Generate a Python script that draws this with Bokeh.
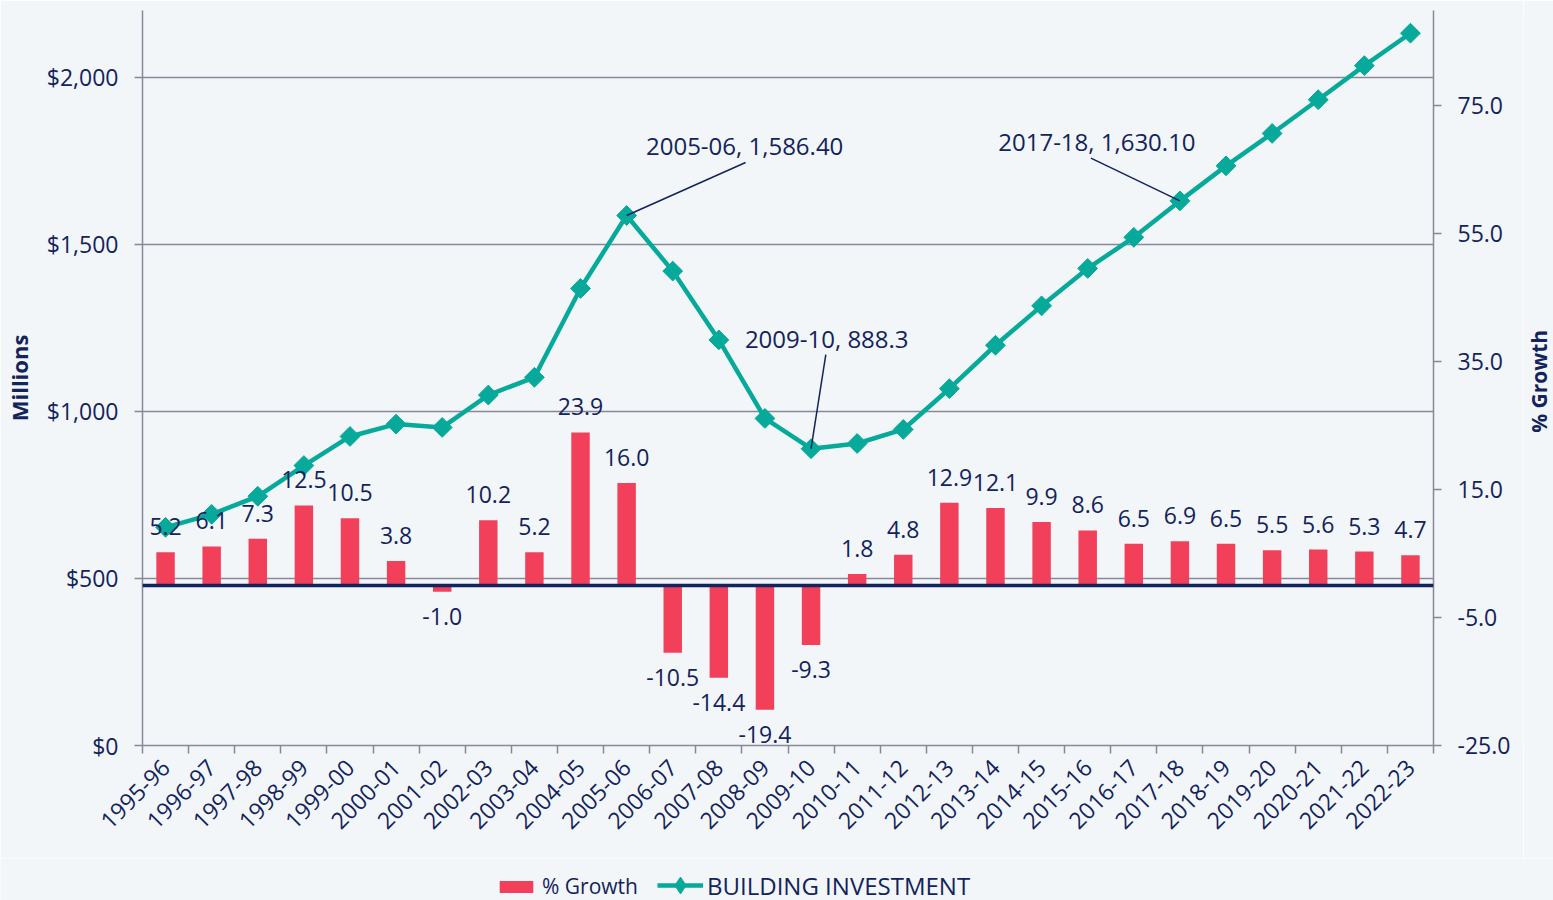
import math
from bokeh.plotting import figure
from bokeh.layouts import column, row
from bokeh.models import (Range1d, LinearAxis, FixedTicker, NumeralTickFormatter,
                          Span, Legend, LegendItem, Label, ColumnDataSource)
from bokeh.core.properties import value
from bokeh.embed import file_html
from bokeh.resources import INLINE

# ---------------- data ----------------
years = ["1995-96", "1996-97", "1997-98", "1998-99", "1999-00", "2000-01", "2001-02",
         "2002-03", "2003-04", "2004-05", "2005-06", "2006-07", "2007-08", "2008-09",
         "2009-10", "2010-11", "2011-12", "2012-13", "2013-14", "2014-15", "2015-16",
         "2016-17", "2017-18", "2018-19", "2019-20", "2020-21", "2021-22", "2022-23"]

investment = [653, 692, 746, 838, 925, 962, 952, 1049, 1102, 1368, 1586.4, 1420,
              1214, 979, 888.3, 904, 946, 1068, 1198, 1316, 1428, 1521, 1630.1,
              1735, 1832, 1933, 2035, 2132]

growth = [5.2, 6.1, 7.3, 12.5, 10.5, 3.8, -1.0, 10.2, 5.2, 23.9, 16.0, -10.5, -14.4,
          -19.4, -9.3, 1.8, 4.8, 12.9, 12.1, 9.9, 8.6, 6.5, 6.9, 6.5, 5.5, 5.6, 5.3, 4.7]

left_ticks = [0, 500, 1000, 1500, 2000]
right_ticks = [-25, -5, 15, 35, 55, 75]

callout_years = ["2005-06", "2009-10", "2017-18"]
callout_texts = ["2005-06, 1,586.40", "2009-10, 888.3", "2017-18, 1,630.10"]

series_names = ["% Growth", "BUILDING INVESTMENT"]

# ---------------- style ----------------
BG = "#f2f6f8"
NAVY = "#13235b"
TEAL = "#07a99b"
RED = "#f2405a"
GREY = "#878996"
FONT = "Open Sans"

idx = list(range(len(years)))

p = figure(width=1523, height=858, x_range=Range1d(-0.5, len(years) - 0.5),
           y_range=Range1d(0, 2200), output_backend="svg", toolbar_location=None,
           min_border_left=142, min_border_right=90, min_border_top=10,
           min_border_bottom=113, background_fill_color=BG, border_fill_color=BG,
           outline_line_color=None)
p.extra_y_ranges = {"pct": Range1d(-25, 89.8)}

# grid
p.xgrid.visible = False
p.ygrid.ticker = FixedTicker(ticks=left_ticks[1:])
p.ygrid.grid_line_color = GREY
p.ygrid.grid_line_width = 1.5

# bottom axis
xa = p.xaxis[0]
xa.ticker = FixedTicker(ticks=idx, minor_ticks=[i - 0.5 for i in range(len(years) + 1)])
xa.major_label_overrides = {i: y for i, y in enumerate(years)}
xa.major_label_orientation = math.pi / 4
xa.major_tick_line_color = None
xa.major_tick_out = 0
xa.major_tick_in = 0
xa.minor_tick_out = 8
xa.minor_tick_in = 0
xa.minor_tick_line_color = GREY
xa.minor_tick_line_width = 1.5
xa.axis_line_color = GREY
xa.axis_line_width = 1.5
xa.major_label_standoff = 10
xa.major_label_text_font = FONT
xa.major_label_text_font_size = "23px"
xa.major_label_text_color = NAVY

# left axis
ya = p.yaxis[0]
ya.ticker = FixedTicker(ticks=left_ticks)
ya.formatter = NumeralTickFormatter(format="$0,0")
ya.major_tick_out = 8
ya.major_tick_in = 0
ya.minor_tick_line_color = None
ya.major_tick_line_color = GREY
ya.major_tick_line_width = 1.5
ya.axis_line_color = GREY
ya.axis_line_width = 1.5
ya.major_label_standoff = 16
ya.major_label_text_font = FONT
ya.major_label_text_font_size = "23px"
ya.major_label_text_color = NAVY
ya.axis_label = "Millions"
ya.axis_label_standoff = 10
ya.axis_label_text_font = FONT
ya.axis_label_text_font_size = "22px"
ya.axis_label_text_font_style = "bold"
ya.axis_label_text_color = NAVY

# right axis (title drawn in a narrow strip beside it)
ra = LinearAxis(y_range_name="pct", ticker=FixedTicker(ticks=right_ticks),
                formatter=NumeralTickFormatter(format="0.0"))
ra.major_tick_out = 8
ra.major_tick_in = 0
ra.minor_tick_line_color = None
ra.major_tick_line_color = GREY
ra.major_tick_line_width = 1.5
ra.axis_line_color = GREY
ra.axis_line_width = 1.5
ra.major_label_standoff = 16
ra.major_label_text_font = FONT
ra.major_label_text_font_size = "23px"
ra.major_label_text_color = NAVY
p.add_layout(ra, "right")

# bars
bars = p.vbar(x=idx, top=growth, bottom=0, width=0.4, y_range_name="pct",
              fill_color=RED, line_color=None)

# zero line of % axis
p.add_layout(Span(location=0, dimension="width", y_range_name="pct",
                  line_color=NAVY, line_width=3.5))

# line
line = p.line(idx, investment, line_color=TEAL, line_width=4.5)
marks = p.scatter(idx, investment, marker="square", angle=math.pi / 4, size=14,
                  fill_color=TEAL, line_color=TEAL)

# bar labels
pos = [i for i in idx if growth[i] >= 0]
neg = [i for i in idx if growth[i] < 0]
src_pos = ColumnDataSource(dict(x=pos, y=[growth[i] for i in pos],
                                t=["%.1f" % growth[i] for i in pos]))
src_neg = ColumnDataSource(dict(x=neg, y=[growth[i] for i in neg],
                                t=["%.1f" % growth[i] for i in neg]))
p.text(x="x", y="y", text="t", source=src_pos, y_range_name="pct",
       text_align="center", text_baseline="bottom", y_offset=-17,
       text_font=value(FONT), text_font_size="23px", text_color=NAVY)
p.text(x="x", y="y", text="t", source=src_neg, y_range_name="pct",
       text_align="center", text_baseline="top", y_offset=16,
       text_font=value(FONT), text_font_size="23px", text_color=NAVY)

# callouts (label anchor and leader-line start, in axis units)
label_pos = [(12.56, 1796), (14.34, 1219), (20.2, 1808)]
leader_start = [(12.58, 1745), (14.32, 1170), (20.07, 1758)]
for yr, txt, (lx, ly), (sx, sy) in zip(callout_years, callout_texts, label_pos, leader_start):
    k = years.index(yr)
    p.segment(x0=[sx], y0=[sy], x1=[k], y1=[investment[k]], line_color=NAVY, line_width=1.5)
    p.add_layout(Label(x=lx, y=ly, text=txt, text_align="center", text_baseline="middle",
                       text_font=FONT, text_font_size="24px", text_color=NAVY))

# ---------------- right title strip ----------------
r = figure(width=30, height=858, x_range=Range1d(0, 30), y_range=p.y_range,
           output_backend="svg", toolbar_location=None, min_border_left=0,
           min_border_right=0, min_border_top=10, min_border_bottom=113,
           background_fill_color=BG, border_fill_color=BG, outline_line_color=None)
r.axis.visible = False
r.grid.visible = False
r.text(x=[15], y=[1090], text=["% Growth"], angle=math.pi / 2, text_align="center",
       text_baseline="middle", text_font=value(FONT), text_font_size="21px",
       text_font_style="bold", text_color=NAVY)

# ---------------- legend strip ----------------
q = figure(width=1553, height=42, x_range=Range1d(0, 1), y_range=Range1d(0, 1),
           output_backend="svg", toolbar_location=None, min_border=0,
           background_fill_color=BG, border_fill_color=BG, outline_line_color=None)
q.axis.visible = False
q.grid.visible = False
lb = q.vbar(x=[5], top=[5], bottom=[4], width=0.1, fill_color=RED, line_color=None)
ll = q.line(x=[5, 6], y=[5, 5], line_color=TEAL, line_width=4.5)
lm = q.scatter(x=[5], y=[5], marker="diamond", size=14,
               fill_color=TEAL, line_color=TEAL)
leg1 = Legend(items=[LegendItem(label=series_names[0], renderers=[lb])],
              location=(495, 0), padding=0, margin=0, label_standoff=5,
              glyph_width=42, glyph_height=15, background_fill_alpha=0,
              border_line_color=None, label_text_font=FONT,
              label_text_font_size="21px", label_text_color=NAVY)
leg2 = Legend(items=[LegendItem(label=series_names[1], renderers=[ll, lm])],
              location=(657, -6), padding=0, margin=0, label_standoff=4,
              glyph_width=46, glyph_height=42, background_fill_alpha=0,
              border_line_color=None, label_text_font=FONT,
              label_text_font_size="24px", label_text_color=NAVY)
q.add_layout(leg1)
q.add_layout(leg2)

open("out.html", "w").write(file_html(column(row(p, r), q), INLINE))
